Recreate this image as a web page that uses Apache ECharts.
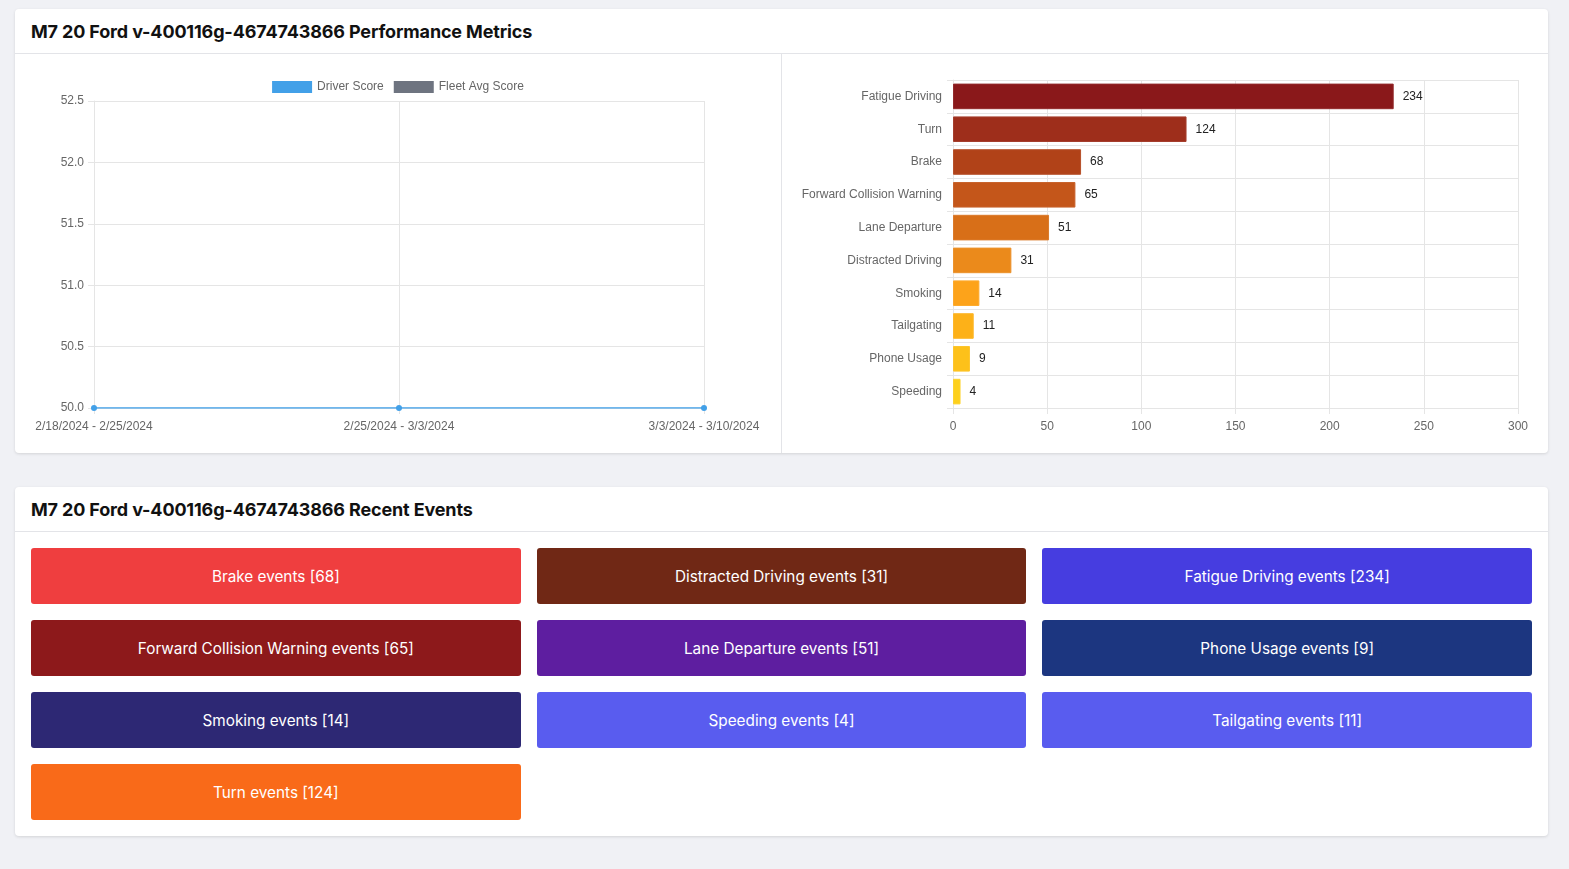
<!DOCTYPE html>
<html>
<head>
<meta charset="utf-8">
<title>Performance Metrics</title>
<script src="https://cdn.jsdelivr.net/npm/echarts@6/dist/echarts.min.js"></script>
<style>
    html, body {
        margin: 0;
        padding: 0;
        background: #f0f1f5;
        font-family: Inter, "Noto Sans", sans-serif;
    }
    .page {
        padding: 9px 21px 0 15px;
    }
    .card {
        background: #fff;
        border-radius: 4px;
        box-shadow: 0 1px 3px rgba(0, 0, 0, 0.12);
        margin-bottom: 34px;
    }
    .card-header {
        height: 44px;
        border-bottom: 1px solid #e3e4e8;
        padding: 0 16px;
        display: flex;
        align-items: center;
        font-size: 18px;
        font-weight: 700;
        color: #111;
        letter-spacing: -0.15px;
    }
    .charts {
        display: flex;
        height: 399px;
    }
    .pane {
        width: 50%;
        height: 100%;
    }
    .pane.left {
        border-right: 1px solid #e3e4e8;
    }
    .events {
        padding: 16px;
        display: grid;
        grid-template-columns: 1fr 1fr 1fr;
        gap: 16px;
    }
    .event-btn {
        height: 56px;
        border-radius: 3px;
        color: #fff;
        font-size: 15.3px;
        display: flex;
        align-items: center;
        justify-content: center;
    }
</style>
</head>
<body>
<div class="page">
    <div class="card">
        <div class="card-header" id="perfTitle"></div>
        <div class="charts">
            <div class="pane left" id="scoreChart"></div>
            <div class="pane" id="eventChart"></div>
        </div>
    </div>
    <div class="card">
        <div class="card-header" id="eventsTitle"></div>
        <div class="events" id="eventList"></div>
    </div>
</div>
<script>
    const vehicle = 'M7 20 Ford v-400116g-4674743866'

    // weekly score chart
    const weeks = ['2/18/2024 - 2/25/2024', '2/25/2024 - 3/3/2024', '3/3/2024 - 3/10/2024']
    const driverScore = [50, 50, 50]
    const fleetAvgScore = [null, null, null]

    // event counts, sorted for the bar chart
    const barCategories = ['Fatigue Driving', 'Turn', 'Brake', 'Forward Collision Warning', 'Lane Departure',
        'Distracted Driving', 'Smoking', 'Tailgating', 'Phone Usage', 'Speeding']
    const barValues = [234, 124, 68, 65, 51, 31, 14, 11, 9, 4]
    const barColors = ['#8a181a', '#9e2e1b', '#b14218', '#c4561a', '#d86f18',
        '#eb8a1b', '#fda31a', '#fdb118', '#fdc11a', '#fdd01c']

    // recent event buttons
    const eventNames = ['Brake', 'Distracted Driving', 'Fatigue Driving', 'Forward Collision Warning', 'Lane Departure',
        'Phone Usage', 'Smoking', 'Speeding', 'Tailgating', 'Turn']
    const eventCounts = [68, 31, 234, 65, 51, 9, 14, 4, 11, 124]
    const eventColors = ['#ef3e3f', '#702815', '#463de0', '#8d191b', '#5e1ea0',
        '#1c3680', '#2d2874', '#595cef', '#595cef', '#f96a19']

    document.getElementById('perfTitle').textContent = vehicle + ' Performance Metrics'
    document.getElementById('eventsTitle').textContent = vehicle + ' Recent Events'

    const list = document.getElementById('eventList')
    eventNames.forEach((name, i) => {
        const btn = document.createElement('div')
        btn.className = 'event-btn'
        btn.style.background = eventColors[i]
        btn.textContent = name + ' events [' + eventCounts[i] + ']'
        list.appendChild(btn)
    })

    const labelFont = '"Liberation Sans", Arial, sans-serif'
    const gridColor = '#e5e5e5'

    var scoreChart = echarts.init(document.getElementById('scoreChart'))
    scoreChart.setOption({
        animation: false,
        textStyle: { fontFamily: labelFont },
        legend: {
            top: 22,
            left: 'center',
            itemWidth: 40,
            itemHeight: 12,
            itemGap: 10,
            icon: 'rect',
            textStyle: { color: '#666', fontSize: 12, fontFamily: labelFont },
            data: ['Driver Score', 'Fleet Avg Score']
        },
        grid: { left: 79, right: 77, top: 47, bottom: 45 },
        xAxis: {
            type: 'category',
            boundaryGap: false,
            data: weeks,
            axisLine: { lineStyle: { color: gridColor } },
            axisTick: { show: true, length: 6, lineStyle: { color: gridColor } },
            axisLabel: { color: '#666', fontSize: 12, margin: 13, fontFamily: labelFont },
            splitLine: { show: true, lineStyle: { color: gridColor } }
        },
        yAxis: {
            type: 'value',
            min: 50,
            max: 52.5,
            interval: 0.5,
            axisLine: { show: true, lineStyle: { color: gridColor } },
            axisTick: { show: true, length: 6, lineStyle: { color: gridColor } },
            axisLabel: {
                color: '#666', fontSize: 12, margin: 10, fontFamily: labelFont,
                formatter: v => v.toFixed(1)
            },
            splitLine: { lineStyle: { color: gridColor } }
        },
        series: [
            {
                name: 'Driver Score',
                type: 'line',
                data: driverScore,
                symbol: 'circle',
                symbolSize: 6,
                color: '#42a0e8',
                lineStyle: { width: 1.5, color: '#42a0e8' },
                itemStyle: { color: '#42a0e8' }
            },
            {
                name: 'Fleet Avg Score',
                type: 'line',
                data: fleetAvgScore,
                symbol: 'circle',
                symbolSize: 6,
                color: '#6e7480',
                lineStyle: { width: 1.5, color: '#6e7480' },
                itemStyle: { color: '#6e7480' }
            }
        ]
    })

    var eventChart = echarts.init(document.getElementById('eventChart'))
    eventChart.setOption({
        animation: false,
        textStyle: { fontFamily: labelFont },
        grid: { left: 171, right: 30, top: 26, bottom: 45 },
        xAxis: {
            type: 'value',
            min: 0,
            max: 300,
            interval: 50,
            axisLine: { show: true, lineStyle: { color: gridColor } },
            axisTick: { show: true, length: 6, lineStyle: { color: gridColor } },
            axisLabel: { color: '#666', fontSize: 12, margin: 13, fontFamily: labelFont },
            splitLine: { lineStyle: { color: gridColor } }
        },
        yAxis: {
            type: 'category',
            inverse: true,
            data: barCategories,
            axisLine: { show: true, lineStyle: { color: gridColor } },
            axisTick: { show: true, length: 6, lineStyle: { color: gridColor } },
            axisLabel: { color: '#666', fontSize: 12, margin: 11, fontFamily: labelFont },
            splitLine: { show: true, lineStyle: { color: gridColor } }
        },
        series: [
            {
                type: 'bar',
                data: barValues.map((v, i) => ({
                    value: v,
                    itemStyle: {
                        color: barColors[i],
                        borderColor: echarts.color.lift(barColors[i], 0.08),
                        borderWidth: 1
                    }
                })),
                barCategoryGap: '22%',
                label: {
                    show: true,
                    position: 'right',
                    distance: 9,
                    color: '#222',
                    fontSize: 12,
                    fontFamily: labelFont
                }
            }
        ]
    })
</script>
</body>
</html>
